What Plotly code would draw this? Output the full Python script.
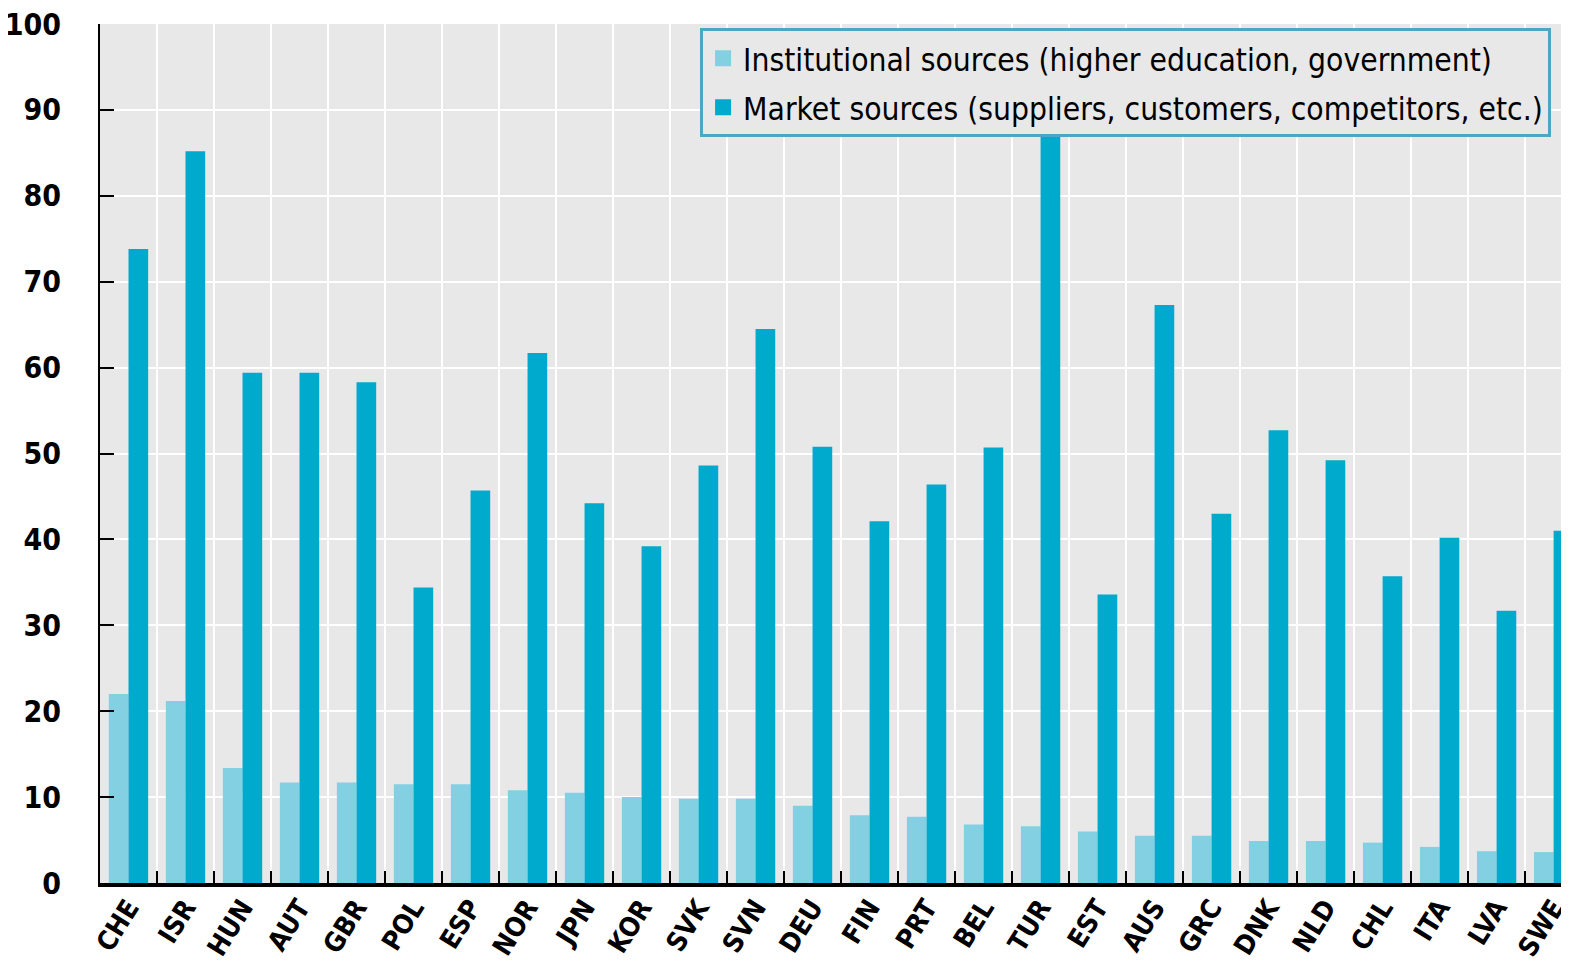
import plotly.graph_objects as go

countries = ["CHE", "ISR", "HUN", "AUT", "GBR", "POL", "ESP", "NOR", "JPN", "KOR",
             "SVK", "SVN", "DEU", "FIN", "PRT", "BEL", "TUR", "EST", "AUS", "GRC",
             "DNK", "NLD", "CHL", "ITA", "LVA", "SWE"]
institutional = [22.0, 21.2, 13.4, 11.7, 11.7, 11.5, 11.5, 10.8, 10.5, 10.0,
                 9.8, 9.8, 9.0, 7.9, 7.7, 6.8, 6.6, 6.0, 5.5, 5.5,
                 4.9, 4.9, 4.7, 4.2, 3.7, 3.6]
market = [73.8, 85.2, 59.4, 59.4, 58.3, 34.4, 45.7, 61.7, 44.2, 39.2,
          48.6, 64.5, 50.8, 42.1, 46.4, 50.7, 90.0, 33.6, 67.3, 43.0,
          52.7, 49.2, 35.7, 40.2, 31.7, 41.0]
y_ticks = [0, 10, 20, 30, 40, 50, 60, 70, 80, 90, 100]

NAME_INST = "Institutional sources (higher education, government)"
NAME_MKT = "Market sources (suppliers, customers, competitors, etc.)"
C_INST = "#82D0E2"
C_MKT = "#00AACC"

FONT = "DejaVu Sans Condensed, Liberation Sans, Arial, sans-serif"

fig = go.Figure()
fig.add_trace(go.Bar(
    x=countries, y=institutional, name=NAME_INST, legendgroup="a",
    showlegend=False, marker=dict(color=C_INST, line=dict(width=0)),
))
fig.add_trace(go.Bar(
    x=countries, y=market, name=NAME_MKT, legendgroup="b",
    showlegend=False, marker=dict(color=C_MKT, line=dict(width=0)),
))
# legend-only entries with larger square keys
fig.add_trace(go.Scatter(
    x=[None], y=[None], mode="markers", name=NAME_INST, legendgroup="a",
    marker=dict(symbol="square", size=18, color=C_INST),
))
fig.add_trace(go.Scatter(
    x=[None], y=[None], mode="markers", name=NAME_MKT, legendgroup="b",
    marker=dict(symbol="square", size=18, color=C_MKT),
))

# page body has an 8px margin, so the figure is sized/offset to compensate
fig.update_layout(
    width=1561, height=958,
    margin=dict(l=92, r=0, t=16, b=83, pad=0),
    paper_bgcolor="white",
    plot_bgcolor="#E8E8E8",
    barmode="group",
    bargap=0.31,
    bargroupgap=0,
    font=dict(family=FONT, color="black"),
    legend=dict(
        x=0.4085, y=0.995, xanchor="left", yanchor="top",
        bgcolor="#E8E8E8", bordercolor="#4BA8C4", borderwidth=3,
        font=dict(family=FONT, size=31.5, color="black"),
        itemsizing="trace",
        traceorder="grouped",
        tracegroupgap=5,
    ),
)

fig.update_xaxes(
    type="category",
    range=[-0.5, 25.27],
    automargin=False,
    tickson="boundaries",
    showgrid=True, gridcolor="white", gridwidth=2,
    ticks="inside", ticklen=12, tickcolor="black", tickwidth=2,
    showline=True, linecolor="black", linewidth=4,
    tickangle=-58,
    ticklabelstandoff=-6,
    ticklabeloverflow="allow",
    tickfont=dict(family=FONT, size=27, color="black", weight="bold"),
)
fig.update_yaxes(
    range=[0, 100],
    automargin=False,
    tickvals=y_ticks,
    showgrid=True, gridcolor="white", gridwidth=2,
    ticks="inside", ticklen=14, tickcolor="black", tickwidth=2,
    showline=True, linecolor="black", linewidth=2,
    zeroline=False,
    ticklabelstandoff=31,
    ticklabeloverflow="allow",
    tickfont=dict(family=FONT, size=30, color="black", weight="bold"),
)

fig.write_html("out.html")
